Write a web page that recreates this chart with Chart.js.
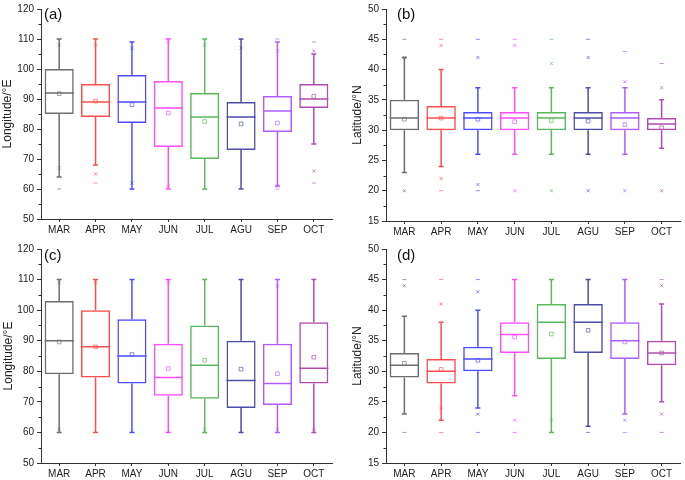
<!DOCTYPE html>
<html>
<head>
<meta charset="utf-8">
<script src="https://cdn.jsdelivr.net/npm/chart.js@4.4.1/dist/chart.umd.min.js"></script>
<style>
  html, body { margin: 0; padding: 0; background: #fff; }
  canvas { position: absolute; }
</style>
</head>
<body>
<canvas id="ca" width="340" height="240" style="left:0px;top:0px"></canvas>
<canvas id="cb" width="345" height="240" style="left:340px;top:0px"></canvas>
<canvas id="cc" width="340" height="240" style="left:0px;top:240px"></canvas>
<canvas id="cd" width="345" height="240" style="left:340px;top:240px"></canvas>
<script>
// ---------- data ----------
const months = ['MAR', 'APR', 'MAY', 'JUN', 'JUL', 'AGU', 'SEP', 'OCT'];
const colors = ['#6e6e6e', '#ff4d4d', '#4d4dff', '#ff4dff', '#5cb85c', '#4d4daa', '#b05cff', '#b04db0'];

const lonTicks = [50, 60, 70, 80, 90, 100, 110, 120];
const latTicks = [15, 20, 25, 30, 35, 40, 45, 50];

// (a) Longitude
const aQ1 = [85, 84, 82, 74, 70, 73, 79, 87];
const aMed = [92, 89, 89, 87, 84, 84, 86, 90];
const aQ3 = [100, 95, 98, 96, 92, 89, 91, 95];
const aLo = [64, 68, 60, 60, 60, 60, 61, 75];
const aHi = [110, 110, 109, 110, 110, 110, 109, 105];
const aMean = [91.8, 89.3, 88.1, 85.3, 82.5, 81.7, 82.0, 90.9];
const aXHigh = [108, 108, 107, 109, 108, 107, 106, 106];
const aXLow = [67, 65, 62, 61, null, null, 61, 66];
const aDHigh = [null, null, null, null, null, null, 110, 109];
const aDLow = [60, 62, null, null, null, null, 60, 62];

// (b) Latitude
const bQ1 = [30, 30, 30, 30, 30, 30, 30, 30];
const bMed = [32, 32, 32, 32, 32, 32, 32, 31];
const bQ3 = [35, 34, 33, 33, 33, 33, 33, 32];
const bLo = [23, 24, 26, 26, 26, 26, 26, 27];
const bHi = [42, 40, 37, 37, 37, 37, 37, 35];
const bMean = [31.8, 32.0, 31.8, 31.4, 31.6, 31.5, 30.9, 30.4];
const bXHigh = [42, 44, 42, 44, 41, 42, 38, 37];
const bXLow = [20, 22, 21, 20, 20, 20, 20, 20];
const bDHigh = [45, 45, 45, 45, 45, 45, 43, 41];
const bDLow = [null, 20, 20, null, null, null, null, null];

// (c) Longitude
const cQ1 = [79, 78, 76, 72, 71, 68, 69, 76];
const cMed = [90, 88, 85, 78, 82, 77, 76, 81];
const cQ3 = [103, 100, 97, 89, 95, 90, 89, 96];
const cLo = [60, 60, 60, 60, 60, 60, 60, 60];
const cHi = [110, 110, 110, 110, 110, 110, 110, 110];
const cMean = [89.6, 88.0, 85.5, 80.9, 83.6, 80.7, 79.2, 84.6];
const cXHigh = [109, 109, null, 109, null, null, 108, null];
const cXLow = [61, null, null, null, 61, null, 61, 61];
const cDHigh = [null, null, null, null, null, null, null, null];
const cDLow = [null, null, null, null, null, null, null, null];

// (d) Latitude
const dQ1 = [29, 28, 30, 33, 32, 33, 32, 31];
const dMed = [31, 30, 32, 36, 38, 38, 35, 33];
const dQ3 = [33, 32, 34, 38, 41, 41, 38, 35];
const dLo = [23, 22, 24, 26, 20, 21, 23, 25];
const dHi = [39, 38, 40, 45, 45, 45, 45, 41];
const dMean = [31.3, 30.3, 31.8, 35.6, 36.1, 36.7, 34.8, 33.0];
const dXHigh = [44, 41, 43, null, null, null, null, 44];
const dXLow = [null, 24, 23, 22, 22, null, 22, 23];
const dDHigh = [45, 45, 45, null, null, null, null, 45];
const dDLow = [20, 20, 20, 20, null, 20, 20, 20];

// ---------- helpers ----------
function alpha(hex, a) {
  const n = parseInt(hex.slice(1), 16);
  return `rgba(${(n >> 16) & 255},${(n >> 8) & 255},${n & 255},${a})`;
}
const lightColors = colors.map(c => alpha(c, 0.65));
const FONT = "'Liberation Sans', Arial, sans-serif";
const TXT = '#222';

const whiskerPlugin = {
  id: 'whiskers',
  beforeDatasetsDraw(chart) {
    const st = chart.$stats;
    if (!st) return;
    const y = chart.scales.y;
    const meta = chart.getDatasetMeta(0);
    const ctx = chart.ctx;
    ctx.save();
    ctx.lineWidth = 1.5;
    meta.data.forEach((el, i) => {
      const x = el.x;
      const half = el.width / 2;
      ctx.strokeStyle = colors[i];
      const pLo = y.getPixelForValue(st.lo[i]);
      const pHi = y.getPixelForValue(st.hi[i]);
      const pQ1 = y.getPixelForValue(st.q1[i]);
      const pQ3 = y.getPixelForValue(st.q3[i]);
      const pMed = y.getPixelForValue(st.med[i]);
      ctx.beginPath();
      ctx.moveTo(x, pQ3); ctx.lineTo(x, pHi);
      ctx.moveTo(x, pQ1); ctx.lineTo(x, pLo);
      ctx.moveTo(x - 2.5, pHi); ctx.lineTo(x + 2.5, pHi);
      ctx.moveTo(x - 2.5, pLo); ctx.lineTo(x + 2.5, pLo);
      ctx.moveTo(x - half, pMed); ctx.lineTo(x + half, pMed);
      ctx.stroke();
    });
    ctx.restore();
  },
  afterDraw(chart) {
    const st = chart.$stats;
    if (!st) return;
    const ctx = chart.ctx;
    const y = chart.scales.y;
    // minor ticks (shorter than the major ones)
    ctx.save();
    ctx.strokeStyle = '#333';
    ctx.lineWidth = 1;
    ctx.beginPath();
    y.ticks.forEach(t => {
      if (!st.labels.includes(t.value)) {
        const py = Math.round(y.getPixelForValue(t.value)) + 0.5;
        ctx.moveTo(y.right, py);
        ctx.lineTo(y.right - 2.5, py);
      }
    });
    ctx.stroke();
    ctx.fillStyle = '#111';
    ctx.font = `15px ${FONT}`;
    ctx.textBaseline = 'middle';
    ctx.textAlign = 'left';
    ctx.fillText(st.panel, st.panelX, st.panelY);
    ctx.restore();
  }
};

function makeChart(id, p) {
  const canvas = document.getElementById(id);
  const chart = new Chart(canvas, {
    type: 'bar',
    data: {
      labels: months,
      datasets: [
        {
          type: 'bar',
          data: p.q1.map((v, i) => [v, p.q3[i]]),
          backgroundColor: 'rgba(255,255,255,0)',
          borderColor: colors,
          borderWidth: 1.5,
          borderSkipped: false,
          barPercentage: 0.8,
          categoryPercentage: 1,
          order: 5
        },
        {
          type: 'line', data: p.mean, showLine: false,
          pointStyle: 'rect', pointRadius: 2.6, pointBorderWidth: 1,
          pointBorderColor: lightColors, pointBackgroundColor: 'rgba(255,255,255,0)', order: 1
        },
        {
          type: 'line', data: p.xHigh, showLine: false,
          pointStyle: 'crossRot', pointRadius: 2.2, pointBorderWidth: 1,
          pointBorderColor: lightColors, order: 1
        },
        {
          type: 'line', data: p.xLow, showLine: false,
          pointStyle: 'crossRot', pointRadius: 2.2, pointBorderWidth: 1,
          pointBorderColor: lightColors, order: 1
        },
        {
          type: 'line', data: p.dHigh, showLine: false,
          pointStyle: 'line', pointRadius: 2, pointBorderWidth: 1,
          pointBorderColor: lightColors, order: 1
        },
        {
          type: 'line', data: p.dLow, showLine: false,
          pointStyle: 'line', pointRadius: 2, pointBorderWidth: 1,
          pointBorderColor: lightColors, order: 1
        }
      ]
    },
    options: {
      responsive: false,
      animation: false,
      devicePixelRatio: 1,
      layout: { padding: { top: p.top, right: p.right, left: 0, bottom: 0 } },
      plugins: { legend: { display: false }, tooltip: { enabled: false }, title: { display: false } },
      scales: {
        x: {
          type: 'category',
          offset: true,
          grid: { display: true, offset: false, drawOnChartArea: false, drawTicks: true, tickLength: 3, color: '#333', lineWidth: 1 },
          border: { display: true, color: '#333', width: 1 },
          ticks: { color: TXT, font: { family: FONT, size: 10 }, padding: 2, maxRotation: 0, autoSkip: false },
          afterFit(s) { s.height = p.xH; }
        },
        y: {
          min: p.min, max: p.max,
          grid: {
            display: true, drawOnChartArea: false, drawTicks: true, tickLength: 4, lineWidth: 1,
            color: (c) => (c.tick && p.labels.includes(c.tick.value)) ? '#333' : 'rgba(0,0,0,0)'
          },
          border: { display: true, color: '#333', width: 1 },
          ticks: {
            stepSize: p.step, color: TXT, font: { family: FONT, size: 10 }, padding: 3,
            autoSkip: false,
            callback: (v) => p.labels.includes(v) ? String(v) : ''
          },
          title: { display: true, text: p.title, color: TXT, font: { family: FONT, size: 12 }, padding: { top: p.titlePad, bottom: 0 } },
          afterFit(s) { s.width = p.yW; }
        }
      }
    },
    plugins: [whiskerPlugin]
  });
  chart.$stats = p;
  chart.draw();
  return chart;
}

makeChart('ca', {
  q1: aQ1, med: aMed, q3: aQ3, lo: aLo, hi: aHi, mean: aMean,
  xHigh: aXHigh, xLow: aXLow, dHigh: aDHigh, dLow: aDLow,
  min: 50, max: 120, step: 5, labels: lonTicks, title: 'Longitude/°E',
  top: 6, right: 8, xH: 21, yW: 41, titlePad: 0,
  panel: '(a)', panelX: 44, panelY: 15
});
makeChart('cb', {
  q1: bQ1, med: bMed, q3: bQ3, lo: bLo, hi: bHi, mean: bMean,
  xHigh: bXHigh, xLow: bXLow, dHigh: bDHigh, dLow: bDLow,
  min: 15, max: 50, step: 2.5, labels: latTicks, title: 'Latitude/°N',
  top: 7, right: 0, xH: 19, yW: 46, titlePad: 10,
  panel: '(b)', panelX: 57, panelY: 15
});
makeChart('cc', {
  q1: cQ1, med: cMed, q3: cQ3, lo: cLo, hi: cHi, mean: cMean,
  xHigh: cXHigh, xLow: cXLow, dHigh: cDHigh, dLow: cDLow,
  min: 50, max: 120, step: 5, labels: lonTicks, title: 'Longitude/°E',
  top: 9, right: 8, xH: 17, yW: 41, titlePad: 1,
  panel: '(c)', panelX: 44, panelY: 16
});
makeChart('cd', {
  q1: dQ1, med: dMed, q3: dQ3, lo: dLo, hi: dHi, mean: dMean,
  xHigh: dXHigh, xLow: dXLow, dHigh: dDHigh, dLow: dDLow,
  min: 15, max: 50, step: 2.5, labels: latTicks, title: 'Latitude/°N',
  top: 9, right: 0, xH: 17, yW: 46, titlePad: 10,
  panel: '(d)', panelX: 57, panelY: 16
});
</script>
</body>
</html>
